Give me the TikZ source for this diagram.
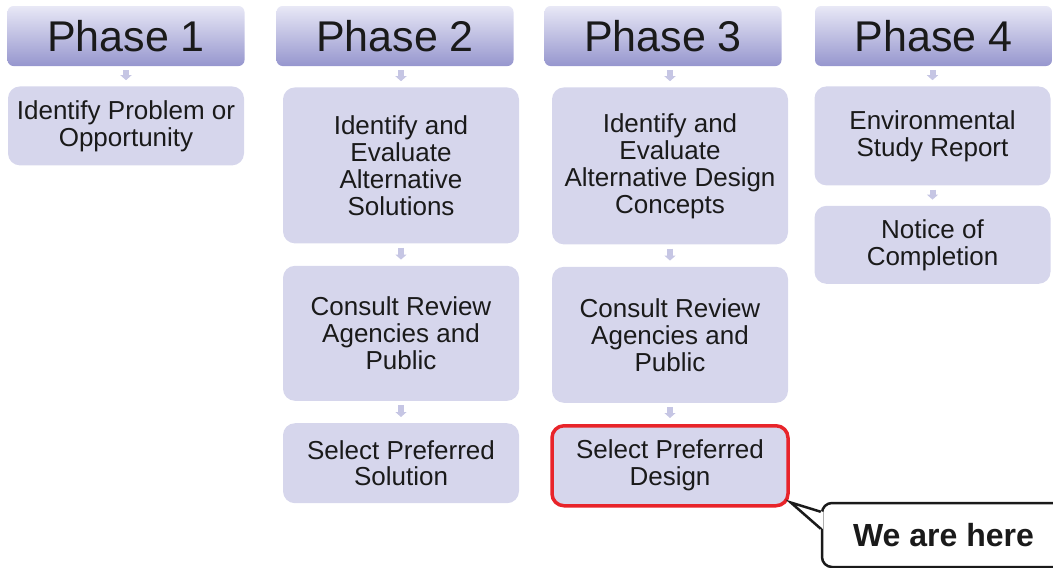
\documentclass[tikz,border=0pt]{standalone}
\usepackage{fontspec}
\setmainfont{Liberation Sans}
\usetikzlibrary{arrows.meta,positioning}
\definecolor{hdtop}{RGB}{232,232,246}
\definecolor{hdbot}{RGB}{150,150,206}
\definecolor{boxfill}{RGB}{214,214,236}
\definecolor{arrowfill}{RGB}{198,198,228}
\definecolor{hereRed}{RGB}{232,36,42}
\definecolor{ink}{RGB}{26,26,26}
\tikzset{
  phase/.style={rectangle, rounded corners=6pt, top color=hdtop, bottom color=hdbot,
    minimum width=237pt, minimum height=60pt, inner sep=0pt, text=ink,
    font=\fontsize{43}{45}\selectfont},
  stepbox/.style={rectangle, rounded corners=12pt, fill=boxfill, minimum width=236pt,
    inner sep=0pt, text=ink, align=center, font=\fontsize{26}{27}\selectfont},
  current/.style={draw=hereRed, line width=3.5pt},
  flow/.style={draw=arrowfill, line width=6pt, -{Triangle[width=11pt,length=5pt]},
    shorten <=4pt, shorten >=6pt},
  bubble/.style={draw=ink, line width=2.5pt, rounded corners=10pt, fill=white,
    minimum width=243pt, minimum height=64pt, text=ink,
    font=\bfseries\fontsize{32}{34}\selectfont},
}
\begin{document}
\begin{tikzpicture}[x=1pt,y=-1pt]
\useasboundingbox (0,0) rectangle (1053,568);

% phase headers
\node[phase] (h1) at (126,36) {Phase 1};
\node[phase] (h2) at (395,36) {Phase 2};
\node[phase] (h3) at (663,36) {Phase 3};
\node[phase] (h4) at (933.5,36) {Phase 4};

% steps
\node[stepbox, minimum height=79pt, below=20pt of h1] (p1a) {Identify Problem or\\Opportunity};

\node[stepbox, minimum height=156pt, below=21pt of h2, xshift=6pt] (p2a) {Identify and\\Evaluate\\Alternative\\Solutions};
\node[stepbox, minimum height=135pt, below=22pt of p2a] (p2b) {Consult Review\\Agencies and\\Public};
\node[stepbox, minimum height=80pt, below=22pt of p2b] (p2c) {Select Preferred\\Solution};

\node[stepbox, minimum height=157pt, below=21pt of h3, xshift=7pt] (p3a) {Identify and\\Evaluate\\Alternative Design\\Concepts};
\node[stepbox, minimum height=136pt, below=22pt of p3a] (p3b) {Consult Review\\Agencies and\\Public};
\node[stepbox, current, minimum height=80pt, below=21pt of p3b] (p3c) {Select Preferred\\Design};

\node[stepbox, minimum height=99pt, below=20pt of h4, xshift=-1pt] (p4a) {Environmental\\Study Report};
\node[stepbox, minimum height=78pt, below=20pt of p4a] (p4b) {Notice of\\Completion};

% small arrows
\draw[flow] (h1.south -| p1a.north) -- (p1a.north);
\draw[flow] (h2.south -| p2a.north) -- (p2a.north);
\draw[flow] (p2a) -- (p2b);
\draw[flow] (p2b) -- (p2c);
\draw[flow] (h3.south -| p3a.north) -- (p3a.north);
\draw[flow] (p3a) -- (p3b);
\draw[flow] (p3b) -- (p3c);
\draw[flow] (h4.south -| p4a.north) -- (p4a.north);
\draw[flow] (p4a) -- (p4b);

% callout
\node[bubble] (here) at (943.5,535) {We are here};
\coordinate (tip) at ([xshift=1pt,yshift=5pt]p3c.south east);
\fill[white] ([xshift=2pt,yshift=-10pt]here.north west) -- (tip)
  -- ([xshift=2pt,yshift=-27pt]here.north west) -- cycle;
\draw[ink, line width=2.5pt, line join=miter] ([yshift=-10pt]here.north west)
  -- (tip) -- ([yshift=-27pt]here.north west);
\end{tikzpicture}
\end{document}
